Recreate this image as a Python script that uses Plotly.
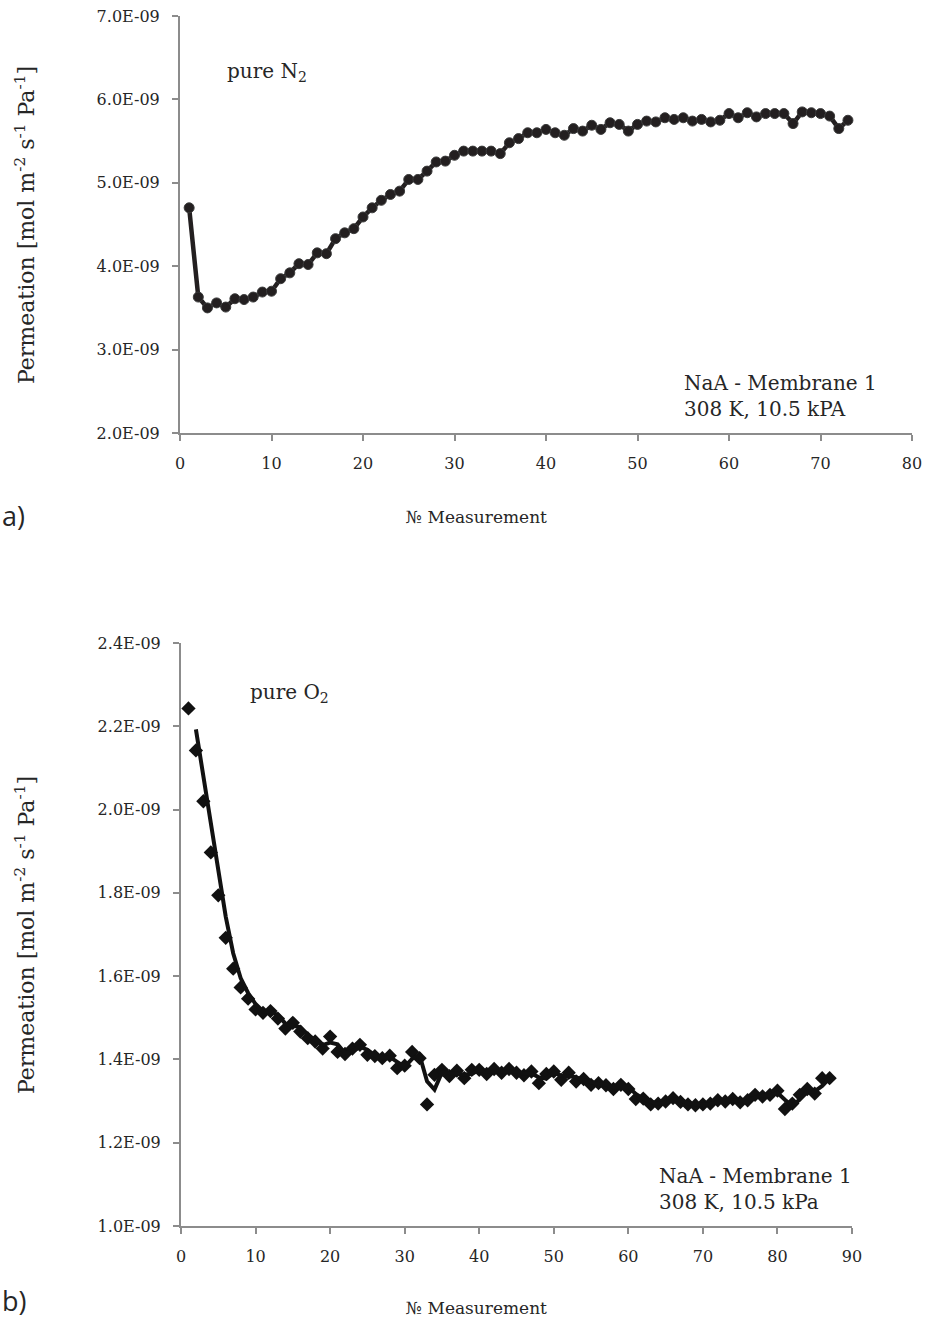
import plotly.graph_objects as go
import pandas as pd

# ---------------- data ----------------
n2_meas = list(range(1, 74))
n2_perm_e9 = [4.70, 3.63, 3.50, 3.56, 3.51, 3.61, 3.60, 3.63, 3.69, 3.70,
              3.85, 3.92, 4.03, 4.02, 4.16, 4.15, 4.33, 4.40, 4.45, 4.59,
              4.70, 4.79, 4.86, 4.90, 5.04, 5.04, 5.14, 5.25, 5.26, 5.33,
              5.38, 5.38, 5.38, 5.38, 5.35, 5.48, 5.53, 5.60, 5.60, 5.64,
              5.60, 5.57, 5.65, 5.62, 5.69, 5.64, 5.72, 5.70, 5.62, 5.70,
              5.74, 5.73, 5.78, 5.76, 5.78, 5.74, 5.76, 5.73, 5.75, 5.83,
              5.78, 5.84, 5.79, 5.83, 5.83, 5.83, 5.71, 5.85, 5.84, 5.83,
              5.80, 5.65, 5.75]

o2_meas = list(range(1, 88))
o2_perm_e9 = [2.243, 2.142, 2.020, 1.897, 1.794, 1.692, 1.618, 1.573, 1.546, 1.520,
              1.512, 1.516, 1.498, 1.474, 1.488, 1.467, 1.451, 1.443, 1.426, 1.455,
              1.418, 1.413, 1.426, 1.435, 1.411, 1.408, 1.403, 1.409, 1.379, 1.385,
              1.418, 1.403, 1.292, 1.363, 1.375, 1.360, 1.373, 1.355, 1.375, 1.375,
              1.365, 1.377, 1.368, 1.377, 1.368, 1.362, 1.371, 1.343, 1.365, 1.371,
              1.351, 1.368, 1.347, 1.353, 1.339, 1.343, 1.338, 1.329, 1.339, 1.329,
              1.305, 1.306, 1.292, 1.294, 1.299, 1.307, 1.298, 1.292, 1.290, 1.292,
              1.294, 1.302, 1.299, 1.305, 1.297, 1.302, 1.315, 1.311, 1.315, 1.325,
              1.281, 1.294, 1.315, 1.329, 1.318, 1.355, 1.355]

yticks_a = [2.0e-9, 3.0e-9, 4.0e-9, 5.0e-9, 6.0e-9, 7.0e-9]
yticks_b = [1.0e-9, 1.2e-9, 1.4e-9, 1.6e-9, 1.8e-9, 2.0e-9, 2.2e-9, 2.4e-9]
ylabels_a = [f"{v:.1E}" for v in yticks_a]
ylabels_b = [f"{v:.1E}" for v in yticks_b]

n2_perm = [v * 1e-9 for v in n2_perm_e9]
o2_perm = [v * 1e-9 for v in o2_perm_e9]
o2_trend = pd.Series(o2_perm).rolling(2).mean().tolist()  # 2-period moving average trendline

# ---------------- styling ----------------
W, H = 927, 1321
FONT = "DejaVu Serif"
TXT = "#262626"
AX = "#8c8c8c"
DARK = "#231f20"


def px(x):
    return x / W


def py(y):
    return 1 - y / H


fig = go.Figure()

fig.add_trace(go.Scatter(
    x=n2_meas, y=n2_perm, mode="lines+markers",
    line=dict(color=DARK, width=4.5),
    marker=dict(symbol="circle", size=10, color=DARK, line=dict(color="#3a3a3a", width=1)),
    xaxis="x", yaxis="y", showlegend=False))

fig.add_trace(go.Scatter(
    x=o2_meas, y=o2_perm, mode="markers",
    marker=dict(symbol="diamond", size=11, color="#111111"),
    xaxis="x2", yaxis="y2", showlegend=False))

fig.add_trace(go.Scatter(
    x=o2_meas, y=o2_trend, mode="lines",
    line=dict(color="#111111", width=4),
    xaxis="x2", yaxis="y2", showlegend=False))

axis_common = dict(showline=True, linecolor=AX, linewidth=2, ticks="outside",
                   ticklen=6, tickcolor=AX, tickwidth=1.5, showgrid=False,
                   zeroline=False, automargin=False, ticklabeloverflow="allow",
                   tickfont=dict(family=FONT, size=16, color=TXT))

fig.update_layout(
    template="none",
    width=W, height=H, margin=dict(l=0, r=0, t=0, b=0, pad=0),
    paper_bgcolor="white", plot_bgcolor="white",
    xaxis=dict(domain=[px(180), px(912)], range=[0, 80], tick0=0, dtick=10,
               anchor="y", ticklabelstandoff=9, **axis_common),
    yaxis=dict(domain=[py(433), py(16)], range=[2e-9, 7e-9], tickvals=yticks_a,
               ticktext=ylabels_a, anchor="x", ticklabelstandoff=9, **axis_common),
    xaxis2=dict(domain=[px(181), px(852)], range=[0, 90], tick0=0, dtick=10,
                anchor="y2", ticklabelstandoff=9, **axis_common),
    yaxis2=dict(domain=[py(1226), py(643)], range=[1e-9, 2.4e-9], tickvals=yticks_b,
                ticktext=ylabels_b, anchor="x2", ticklabelstandoff=9, **axis_common),
)

ann = []
ytitle = "Permeation [mol m<sup>-2</sup> s<sup>-1</sup> Pa<sup>-1</sup>]"
for yc in (225, 935):
    ann.append(dict(text=ytitle, xref="paper", yref="paper", x=px(25), y=py(yc),
                    xanchor="center", yanchor="middle", textangle=-90, showarrow=False,
                    font=dict(family=FONT, size=22, color=TXT)))
for yc in (517, 1308):
    ann.append(dict(text="№ Measurement", xref="paper", yref="paper", x=px(476), y=py(yc),
                    xanchor="center", yanchor="middle", showarrow=False,
                    font=dict(family=FONT, size=17, color=TXT)))
for lab, yc in (("a)", 515), ("b)", 1300)):
    ann.append(dict(text=lab, xref="paper", yref="paper", x=0, y=py(yc),
                    xanchor="left", yanchor="middle", showarrow=False,
                    font=dict(family="Open Sans", size=27, color=TXT)))

ann.append(dict(text="pure N<sub>2</sub>", xref="x", yref="y", x=4.9, y=6.33e-9,
                xanchor="left", yanchor="middle", showarrow=False,
                font=dict(family=FONT, size=20, color=TXT)))
ann.append(dict(text="NaA - Membrane 1<br>308 K, 10.5 kPA", xref="x", yref="y",
                x=54.9, y=2.44e-9, xanchor="left", yanchor="middle", align="left",
                showarrow=False, font=dict(family=FONT, size=20, color=TXT)))
ann.append(dict(text="pure O<sub>2</sub>", xref="x2", yref="y2", x=9.0, y=2.28e-9,
                xanchor="left", yanchor="middle", showarrow=False,
                font=dict(family=FONT, size=20, color=TXT)))
ann.append(dict(text="NaA - Membrane 1<br>308 K, 10.5 kPa", xref="x2", yref="y2",
                x=63.8, y=1.089e-9, xanchor="left", yanchor="middle", align="left",
                showarrow=False, font=dict(family=FONT, size=20, color=TXT)))

fig.update_layout(annotations=ann)
fig.write_html("out.html", config={"displayModeBar": False},
               post_script="document.body.style.margin='0px';"
                           "document.body.style.overflow='hidden';")
